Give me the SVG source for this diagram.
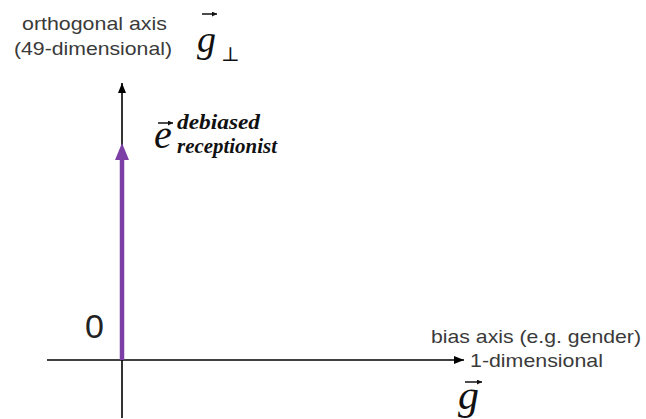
<svg xmlns="http://www.w3.org/2000/svg" width="646" height="419" viewBox="0 0 646 419">
<style>
.lbl{font-family:"Liberation Sans",Arial,sans-serif;font-size:19px;fill:#3a3a3a}
.math{font-family:"Liberation Serif","Times New Roman",serif;font-style:italic;fill:#111}
.vec{stroke:#111;stroke-width:1.5;fill:none}
</style>
<defs>
<marker id="ah" markerWidth="10" markerHeight="8" refX="10" refY="4" orient="auto" markerUnits="userSpaceOnUse">
<path d="M0,0 L10,4 L0,8 z" fill="#000"/>
</marker>
<marker id="va" markerWidth="5" markerHeight="5" refX="5" refY="2.5" orient="auto" markerUnits="userSpaceOnUse">
<path d="M0,0 L5,2.5 L0,5 z" fill="#111"/>
</marker>
</defs>
<rect width="646" height="419" fill="#fff"/>
<g id="connectors">
<line x1="122" y1="418" x2="122" y2="83" stroke="#000" stroke-width="1.6" marker-end="url(#ah)"/>
<line x1="47" y1="360" x2="464" y2="360" stroke="#000" stroke-width="1.6" marker-end="url(#ah)"/>
<line x1="122" y1="360" x2="122" y2="158" stroke="#7b3fa6" stroke-width="4.5"/>
<path d="M115,160 L122,143 L129,160 z" fill="#7b3fa6"/>
</g>
<g id="orthogonal-label">
<text class="lbl" x="22" y="30" textLength="145" lengthAdjust="spacingAndGlyphs">orthogonal axis</text>
<text class="lbl" x="14" y="55" textLength="158" lengthAdjust="spacingAndGlyphs">(49-dimensional)</text>
<text class="math" x="197" y="52" font-size="38">g</text>
<text x="221" y="61" font-family="'DejaVu Serif',serif" font-size="20" fill="#111">⊥</text>
<line class="vec" x1="202" y1="14" x2="217" y2="14" marker-end="url(#va)"/>
</g>
<g id="e-label">
<text class="math" x="154" y="148" font-size="40">e</text>
<line class="vec" x1="158" y1="123" x2="173" y2="123" marker-end="url(#va)"/>
<text class="math" x="177" y="129" font-size="22" font-weight="bold" textLength="83" lengthAdjust="spacingAndGlyphs">debiased</text>
<text class="math" x="177" y="153" font-size="22" font-weight="bold" textLength="100" lengthAdjust="spacingAndGlyphs">receptionist</text>
</g>
<g id="origin">
<text x="85" y="338" font-family="'Liberation Sans',Arial,sans-serif" font-size="34" fill="#222">0</text>
</g>
<g id="bias-label">
<text class="lbl" x="431" y="343" textLength="210" lengthAdjust="spacingAndGlyphs">bias axis (e.g. gender)</text>
<text class="lbl" x="470" y="367" textLength="133" lengthAdjust="spacingAndGlyphs">1-dimensional</text>
<text class="math" x="458" y="409" font-size="42">g</text>
<line class="vec" x1="465" y1="382" x2="482" y2="382" marker-end="url(#va)"/>
</g>
</svg>
